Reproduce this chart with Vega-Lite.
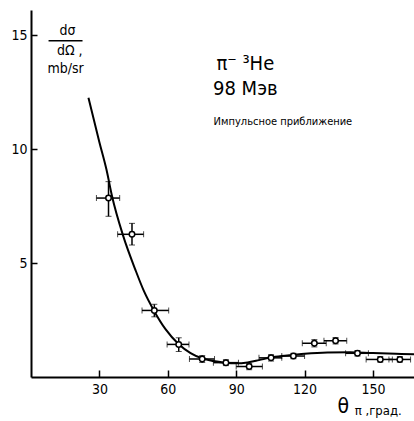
{
  "$schema": "https://vega.github.io/schema/vega-lite/v6.json",
  "width": 383,
  "height": 367,
  "autosize": "none",
  "padding": {"left": 31, "top": 10, "right": 0, "bottom": 44},
  "background": "white",
  "config": {"view": {"stroke": null}, "font": "DejaVu Sans"},
  "datasets": {
    "pts": [
      {"theta": 34.0, "xs": 7.85, "ylo": 7.05, "yhi": 8.57, "xlo": 28.7, "xhi": 38.9},
      {"theta": 44.3, "xs": 6.26, "ylo": 5.79, "yhi": 6.74, "xlo": 38.0, "xhi": 49.4},
      {"theta": 54.1, "xs": 2.92, "ylo": 2.64, "yhi": 3.19, "xlo": 48.7, "xhi": 60.4},
      {"theta": 64.8, "xs": 1.43, "ylo": 1.12, "yhi": 1.72, "xlo": 59.7, "xhi": 69.3},
      {"theta": 75.1, "xs": 0.79, "ylo": 0.64, "yhi": 0.94, "xlo": 69.5, "xhi": 80.5},
      {"theta": 85.5, "xs": 0.63, "ylo": 0.5, "yhi": 0.76, "xlo": 80.0, "xhi": 91.0},
      {"theta": 95.7, "xs": 0.46, "ylo": 0.32, "yhi": 0.6, "xlo": 90.0, "xhi": 101.5},
      {"theta": 105.3, "xs": 0.84, "ylo": 0.7, "yhi": 0.98, "xlo": 100.0, "xhi": 110.0},
      {"theta": 115.1, "xs": 0.92, "ylo": 0.8, "yhi": 1.04, "xlo": 110.0, "xhi": 120.0},
      {"theta": 124.3, "xs": 1.48, "ylo": 1.32, "yhi": 1.64, "xlo": 119.0, "xhi": 129.5},
      {"theta": 133.6, "xs": 1.59, "ylo": 1.45, "yhi": 1.73, "xlo": 128.5, "xhi": 138.5},
      {"theta": 143.2, "xs": 1.04, "ylo": 0.92, "yhi": 1.16, "xlo": 138.0, "xhi": 148.0},
      {"theta": 153.2, "xs": 0.77, "ylo": 0.65, "yhi": 0.9, "xlo": 147.0, "xhi": 158.5},
      {"theta": 161.8, "xs": 0.77, "ylo": 0.65, "yhi": 0.9, "xlo": 157.0, "xhi": 166.5}
    ],
    "curve": [
      {"theta": 25.2, "xs": 12.25},
      {"theta": 30, "xs": 10.3},
      {"theta": 33.1, "xs": 9.1},
      {"theta": 35.5, "xs": 7.95},
      {"theta": 40.4, "xs": 6.2},
      {"theta": 45.8, "xs": 4.7},
      {"theta": 49.4, "xs": 3.8},
      {"theta": 54, "xs": 2.9},
      {"theta": 59, "xs": 2.1},
      {"theta": 64.7, "xs": 1.45},
      {"theta": 70, "xs": 1.05},
      {"theta": 75, "xs": 0.82},
      {"theta": 80, "xs": 0.7},
      {"theta": 85, "xs": 0.63},
      {"theta": 90, "xs": 0.6},
      {"theta": 95, "xs": 0.64},
      {"theta": 100, "xs": 0.74},
      {"theta": 105, "xs": 0.85},
      {"theta": 110, "xs": 0.92},
      {"theta": 115, "xs": 0.97},
      {"theta": 120, "xs": 1.02},
      {"theta": 130, "xs": 1.08},
      {"theta": 140, "xs": 1.09},
      {"theta": 150, "xs": 1.05},
      {"theta": 160, "xs": 1.02},
      {"theta": 168, "xs": 1.0}
    ],
    "labels": [
      {"theta": 16.0, "xs": 15.2, "t": "dσ", "s": 14},
      {"theta": 17.0, "xs": 14.3, "t": "dΩ ,", "s": 14},
      {"theta": 15.2, "xs": 13.5, "t": "mb/sr", "s": 14},
      {"theta": 94, "xs": 13.75, "t": "π⁻ ³He", "s": 20},
      {"theta": 94, "xs": 12.65, "t": "98 Мэв", "s": 20},
      {"theta": 110.5, "xs": 11.2, "t": "Импульсное приближение", "s": 11}
    ],
    "frac": [{"a": 7.7, "b": 22.6, "xs": 14.75}],
    "xtitleA": [{"theta": 137.0, "xs": -1.3, "t": "θ"}],
    "xtitleB": [{"theta": 142.0, "xs": -1.5, "t": "π ,град."}]
  },
  "layer": [
    {
      "data": {"name": "curve"},
      "mark": {"type": "line", "color": "black", "strokeWidth": 2, "interpolate": "monotone"},
      "encoding": {
        "x": {"field": "theta", "type": "quantitative", "scale": {"domain": [0, 168], "nice": false},
          "axis": {"values": [30, 60, 90, 120, 150], "title": null, "grid": false, "domainColor": "black", "domainWidth": 2, "tickColor": "black", "tickWidth": 1.5, "tickSize": -7, "labelFontSize": 14, "labelColor": "black", "labelPadding": 12, "labelFont": "DejaVu Sans Condensed"}},
        "y": {"field": "xs", "type": "quantitative", "scale": {"domain": [0, 16.1], "nice": false},
          "axis": {"values": [5, 10, 15], "title": null, "grid": false, "domainColor": "black", "domainWidth": 2, "tickColor": "black", "tickWidth": 1.5, "tickSize": -6, "labelFontSize": 14, "labelColor": "black", "labelPadding": 10, "labelFont": "DejaVu Sans Condensed"}}
      }
    },
    {
      "data": {"name": "pts"},
      "mark": {"type": "errorbar", "ticks": {"size": 6, "color": "black", "strokeWidth": 1.5}, "rule": {"color": "black", "strokeWidth": 1.5}},
      "encoding": {
        "x": {"field": "theta", "type": "quantitative"},
        "y": {"field": "ylo", "type": "quantitative"},
        "y2": {"field": "yhi"}
      }
    },
    {
      "data": {"name": "pts"},
      "mark": {"type": "errorbar", "ticks": {"size": 6, "color": "black", "strokeWidth": 1.5}, "rule": {"color": "black", "strokeWidth": 1.5}},
      "encoding": {
        "y": {"field": "xs", "type": "quantitative"},
        "x": {"field": "xlo", "type": "quantitative"},
        "x2": {"field": "xhi"}
      }
    },
    {
      "data": {"name": "pts"},
      "mark": {"type": "point", "shape": "circle", "filled": true, "fill": "white", "stroke": "black", "strokeWidth": 1.5, "size": 30, "opacity": 1},
      "encoding": {
        "x": {"field": "theta", "type": "quantitative"},
        "y": {"field": "xs", "type": "quantitative"}
      }
    },
    {
      "data": {"name": "labels"},
      "mark": {"type": "text", "color": "black", "font": "DejaVu Sans Condensed"},
      "encoding": {
        "x": {"field": "theta", "type": "quantitative"},
        "y": {"field": "xs", "type": "quantitative"},
        "text": {"field": "t"},
        "size": {"field": "s", "type": "quantitative", "scale": null}
      }
    },
    {
      "data": {"name": "frac"},
      "mark": {"type": "rule", "color": "black", "strokeWidth": 1.5},
      "encoding": {
        "x": {"field": "a", "type": "quantitative"},
        "x2": {"field": "b"},
        "y": {"field": "xs", "type": "quantitative"}
      }
    },
    {
      "data": {"name": "xtitleA"},
      "mark": {"type": "text", "color": "black", "font": "DejaVu Sans Condensed", "fontSize": 21, "align": "center", "clip": false},
      "encoding": {
        "x": {"field": "theta", "type": "quantitative"},
        "y": {"field": "xs", "type": "quantitative"},
        "text": {"field": "t"}
      }
    },
    {
      "data": {"name": "xtitleB"},
      "mark": {"type": "text", "color": "black", "font": "DejaVu Sans Condensed", "fontSize": 13, "align": "left", "clip": false},
      "encoding": {
        "x": {"field": "theta", "type": "quantitative"},
        "y": {"field": "xs", "type": "quantitative"},
        "text": {"field": "t"}
      }
    }
  ]
}
